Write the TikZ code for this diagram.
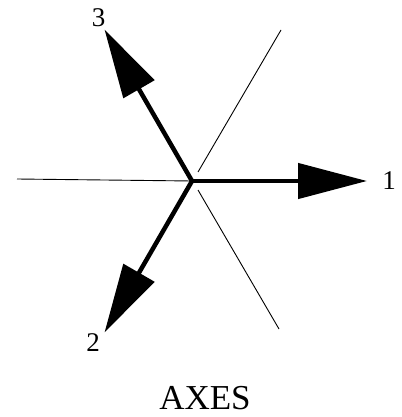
\documentclass[tikz,border=0pt]{standalone}
\usepackage{fontspec}
\setmainfont{Liberation Serif}
\usetikzlibrary{arrows.meta}
\begin{document}
\begin{tikzpicture}[x=1pt,y=-1pt,
  axis/.style={line width=4.5pt,-{Triangle[length=69pt,width=35pt]}},
  thin/.style={line width=0.9pt},
  lab/.style={font=\fontsize{27pt}{27pt}\selectfont,inner sep=0pt}]
\useasboundingbox (0,0) rectangle (401,417);
\coordinate (O) at (192,181);
\coordinate (T1) at (367,181);
\coordinate (T3) at (104.5,29.5);
\coordinate (T2) at (104.5,332.5);
\coordinate (L0) at (17,179);
\coordinate (U0) at (198,172);
\coordinate (U1) at (281,30);
\coordinate (D0) at (198,190);
\coordinate (D1) at (279,329);
\draw[thin] (L0) -- (O);
\draw[thin] (U0) -- (U1);
\draw[thin] (D0) -- (D1);
\draw[axis] (O) -- (T1);
\draw[axis] (O) -- (T3);
\draw[axis] (O) -- (T2);
\node[lab] (n1) at (389,181) {1};
\node[lab] (n3) at (98.5,17.5) {3};
\node[lab] (n2) at (93,343) {2};
\node[lab,font=\fontsize{35pt}{35pt}\selectfont] (ax) at (205,398.5) {AXES};
\end{tikzpicture}
\end{document}
